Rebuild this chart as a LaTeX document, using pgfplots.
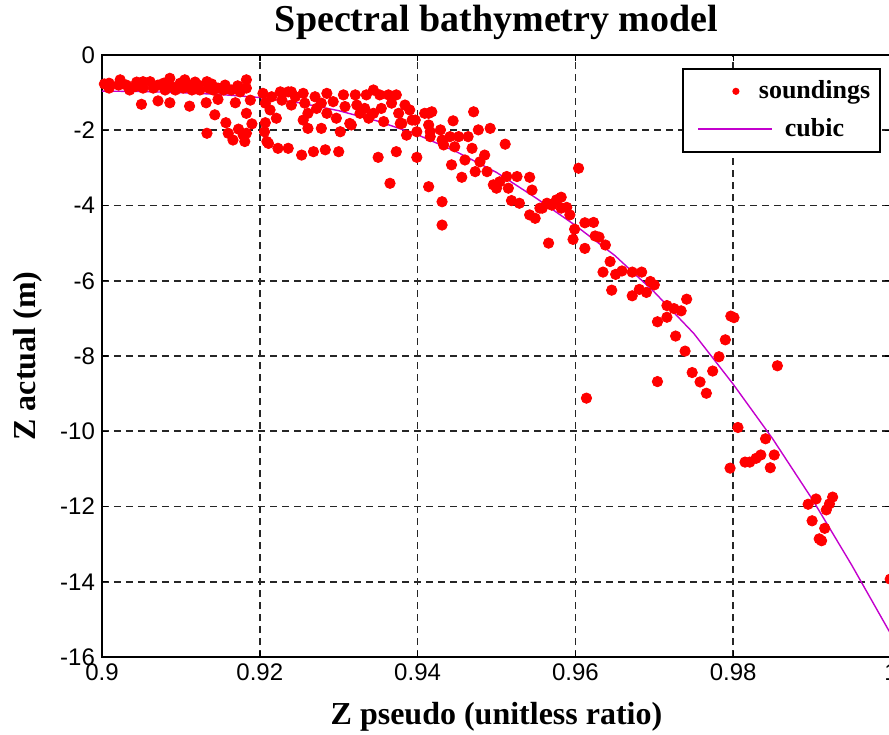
\documentclass[border=0pt]{standalone}
\usepackage{fontspec}
\setmainfont{Liberation Serif}
\setsansfont{Liberation Sans}
\usepackage{pgfplots}
\pgfplotsset{compat=1.18}
\definecolor{cubicc}{RGB}{195,0,205}
\pgfplotstableread{
x y
0.9009 -0.75
0.9009 -0.88
0.9003 -0.77
0.9021 -0.80
0.9023 -0.66
0.9031 -0.80
0.9035 -0.93
0.9042 -0.84
0.9044 -0.72
0.9052 -0.71
0.9052 -0.88
0.9061 -0.71
0.9065 -0.88
0.9071 -0.80
0.9078 -0.75
0.9080 -0.93
0.9086 -0.62
0.9088 -0.84
0.9093 -0.93
0.9099 -0.75
0.9103 -0.88
0.9105 -0.66
0.9109 -0.80
0.9114 -0.93
0.9118 -0.72
0.9122 -0.80
0.9124 -0.93
0.9133 -0.71
0.9135 -0.88
0.9139 -0.77
0.9141 -0.93
0.9147 -0.88
0.9154 -0.93
0.9156 -0.80
0.9164 -0.93
0.9172 -0.82
0.9175 -0.98
0.9183 -0.66
0.9183 -0.88
0.9188 -1.20
0.9050 -1.31
0.9071 -1.22
0.9086 -1.27
0.9111 -1.36
0.9132 -1.27
0.9147 -1.18
0.9169 -1.27
0.9143 -1.59
0.9183 -1.55
0.9157 -1.80
0.9190 -1.83
0.9133 -2.08
0.9160 -2.08
0.9173 -1.97
0.9166 -2.26
0.9179 -2.13
0.9181 -2.30
0.9183 -2.08
0.9204 -1.02
0.9207 -1.28
0.9213 -1.46
0.9215 -1.11
0.9226 -0.98
0.9228 -1.20
0.9236 -0.98
0.9240 -1.33
0.9240 -0.98
0.9245 -1.11
0.9255 -1.02
0.9257 -1.28
0.9261 -1.55
0.9270 -1.11
0.9272 -1.42
0.9278 -1.28
0.9285 -1.02
0.9285 -1.55
0.9293 -1.24
0.9297 -1.68
0.9306 -1.06
0.9308 -1.37
0.9314 -1.82
0.9321 -1.06
0.9323 -1.33
0.9327 -1.55
0.9333 -1.42
0.9335 -1.06
0.9338 -1.68
0.9344 -0.93
0.9344 -1.55
0.9352 -1.06
0.9354 -1.42
0.9357 -1.77
0.9363 -1.06
0.9367 -1.28
0.9373 -1.06
0.9376 -1.55
0.9378 -1.82
0.9380 -1.82
0.9384 -1.33
0.9390 -1.46
0.9393 -1.73
0.9386 -2.13
0.9399 -2.04
0.9409 -1.55
0.9207 -1.80
0.9206 -2.04
0.9209 -2.30
0.9211 -2.35
0.9221 -1.68
0.9223 -2.48
0.9236 -2.48
0.9253 -2.66
0.9255 -1.73
0.9261 -1.95
0.9268 -2.57
0.9278 -1.95
0.9283 -2.52
0.9300 -2.57
0.9302 -2.04
0.9316 -1.86
0.9350 -2.72
0.9373 -2.57
0.9399 -2.72
0.9365 -3.41
0.9414 -3.50
0.9431 -3.90
0.9431 -4.52
0.9397 -1.73
0.9414 -1.55
0.9418 -1.51
0.9414 -1.86
0.9416 -2.04
0.9416 -2.17
0.9429 -1.99
0.9431 -2.26
0.9433 -2.39
0.9441 -2.17
0.9445 -1.75
0.9452 -2.17
0.9447 -2.44
0.9464 -2.17
0.9471 -1.51
0.9477 -1.99
0.9492 -1.95
0.9469 -2.48
0.9460 -2.79
0.9485 -2.66
0.9479 -2.84
0.9443 -2.92
0.9473 -3.10
0.9456 -3.25
0.9488 -3.10
0.9511 -2.37
0.9496 -3.45
0.9500 -3.54
0.9504 -3.37
0.9513 -3.23
0.9515 -3.54
0.9526 -3.23
0.9542 -3.25
0.9545 -3.59
0.9519 -3.87
0.9529 -3.94
0.9542 -4.25
0.9549 -4.34
0.9558 -4.07
0.9564 -3.94
0.9570 -3.99
0.9576 -3.85
0.9566 -5.00
0.9604 -3.01
0.9555 -4.07
0.9582 -3.78
0.9582 -4.07
0.9589 -4.05
0.9593 -4.25
0.9599 -4.63
0.9597 -4.90
0.9612 -4.46
0.9623 -4.45
0.9625 -4.81
0.9630 -4.84
0.9638 -5.05
0.9612 -5.14
0.9644 -5.49
0.9635 -5.77
0.9651 -5.83
0.9659 -5.74
0.9672 -5.77
0.9684 -5.77
0.9695 -6.02
0.9700 -6.11
0.9646 -6.25
0.9681 -6.23
0.9690 -6.31
0.9672 -6.40
0.9716 -6.66
0.9725 -6.74
0.9734 -6.80
0.9741 -6.49
0.9704 -7.09
0.9716 -6.97
0.9727 -7.47
0.9739 -7.87
0.9748 -8.44
0.9758 -8.69
0.9766 -8.99
0.9774 -8.40
0.9782 -8.02
0.9790 -7.57
0.9797 -6.94
0.9801 -6.98
0.9704 -8.68
0.9614 -9.12
0.9856 -8.26
0.9806 -9.90
0.9841 -10.20
0.9852 -10.63
0.9835 -10.63
0.9829 -10.72
0.9821 -10.82
0.9815 -10.82
0.9847 -10.97
0.9796 -10.98
0.9895 -11.94
0.9905 -11.80
0.9926 -11.75
0.9922 -11.93
0.9918 -12.09
0.9900 -12.38
0.9916 -12.58
0.9909 -12.86
0.9912 -12.91
0.9999 -13.93
}\soundings
\pgfplotstableread{
x y
0.900 -0.96
0.905 -0.97
0.910 -1.00
0.915 -1.05
0.920 -1.13
0.925 -1.27
0.930 -1.48
0.935 -1.76
0.940 -2.12
0.945 -2.58
0.950 -3.12
0.955 -3.80
0.960 -4.53
0.965 -5.33
0.970 -6.30
0.975 -7.40
0.980 -8.75
0.985 -10.20
0.990 -11.80
0.995 -13.55
1.000 -15.40
}\cubic
\begin{document}
\begin{tikzpicture}[execute at end picture={\pgfresetboundingbox
  \path ([shift={(-51pt,-38.5pt)}]current axis.south west) rectangle ([shift={(-1pt,27.5pt)}]current axis.north east);}]
\begin{axis}[
  scale only axis, width=394.5pt, height=301pt,
  xmin=0.9, xmax=1, ymin=-16, ymax=0,
  xtick={0.9,0.92,0.94,0.96,0.98,1},
  xticklabels={0.9,0.92,0.94,0.96,0.98,1},
  ytick={-16,-14,-12,-10,-8,-6,-4,-2,0},
  yticklabels={-16,-14,-12,-10,-8,-6,-4,-2,0},
  tick label style={font=\fontsize{12}{14}\selectfont\sffamily},
  tick align=inside, major tick length=3pt,
  tick style={black, line width=0.7pt},
  grid=major,
  grid style={black!85, line width=0.85pt, dash pattern=on 3.3pt off 2.7pt},
  axis line style={black, line width=0.9pt},
  title={Spectral bathymetry model},
  title style={font=\fontsize{19}{22}\selectfont\bfseries, at={(axis description cs:0.5,1)}, anchor=center, yshift=10.5pt, inner sep=0pt},
  xlabel={Z pseudo (unitless ratio)},
  xlabel style={font=\fontsize{16}{18}\selectfont\bfseries, at={(axis description cs:0.5,0)}, anchor=center, yshift=-30pt, inner sep=0pt},
  ylabel={Z actual (m)},
  ylabel style={font=\fontsize{16}{18}\selectfont\bfseries, at={(axis description cs:0,0.5)}, anchor=center, yshift=37pt, inner sep=0pt},
  legend style={at={(1,1)}, anchor=north east, xshift=-5pt, yshift=-6.5pt,
    font=\fontsize{13}{15}\selectfont\bfseries, draw=black, line width=0.8pt,
    inner xsep=3pt, inner ysep=4pt, row sep=4.5pt},
  legend cell align=center,
]
\addplot[only marks, mark=*, mark size=2.6pt, color=red, fill=red,
  legend image code/.code={\path[draw=none,fill=none] (0pt,0pt) -- (33pt,0pt); \fill[fill=red,draw=none] (23.5pt,0pt) circle (1.8pt);}]
  table[x=x, y=y] {\soundings};
\addlegendentry{soundings}
\addplot[cubicc, line width=0.7pt, mark=none,
  legend image code/.code={\path[draw=none] (0pt,0pt) -- (33pt,0pt); \fill[fill=cubicc, draw=none, overlay] (4.5pt,-0.45pt) rectangle (41.5pt,0.45pt);}]
  table[x=x, y=y] {\cubic};
\addlegendentry{cubic}
\end{axis}
\end{tikzpicture}
\end{document}
